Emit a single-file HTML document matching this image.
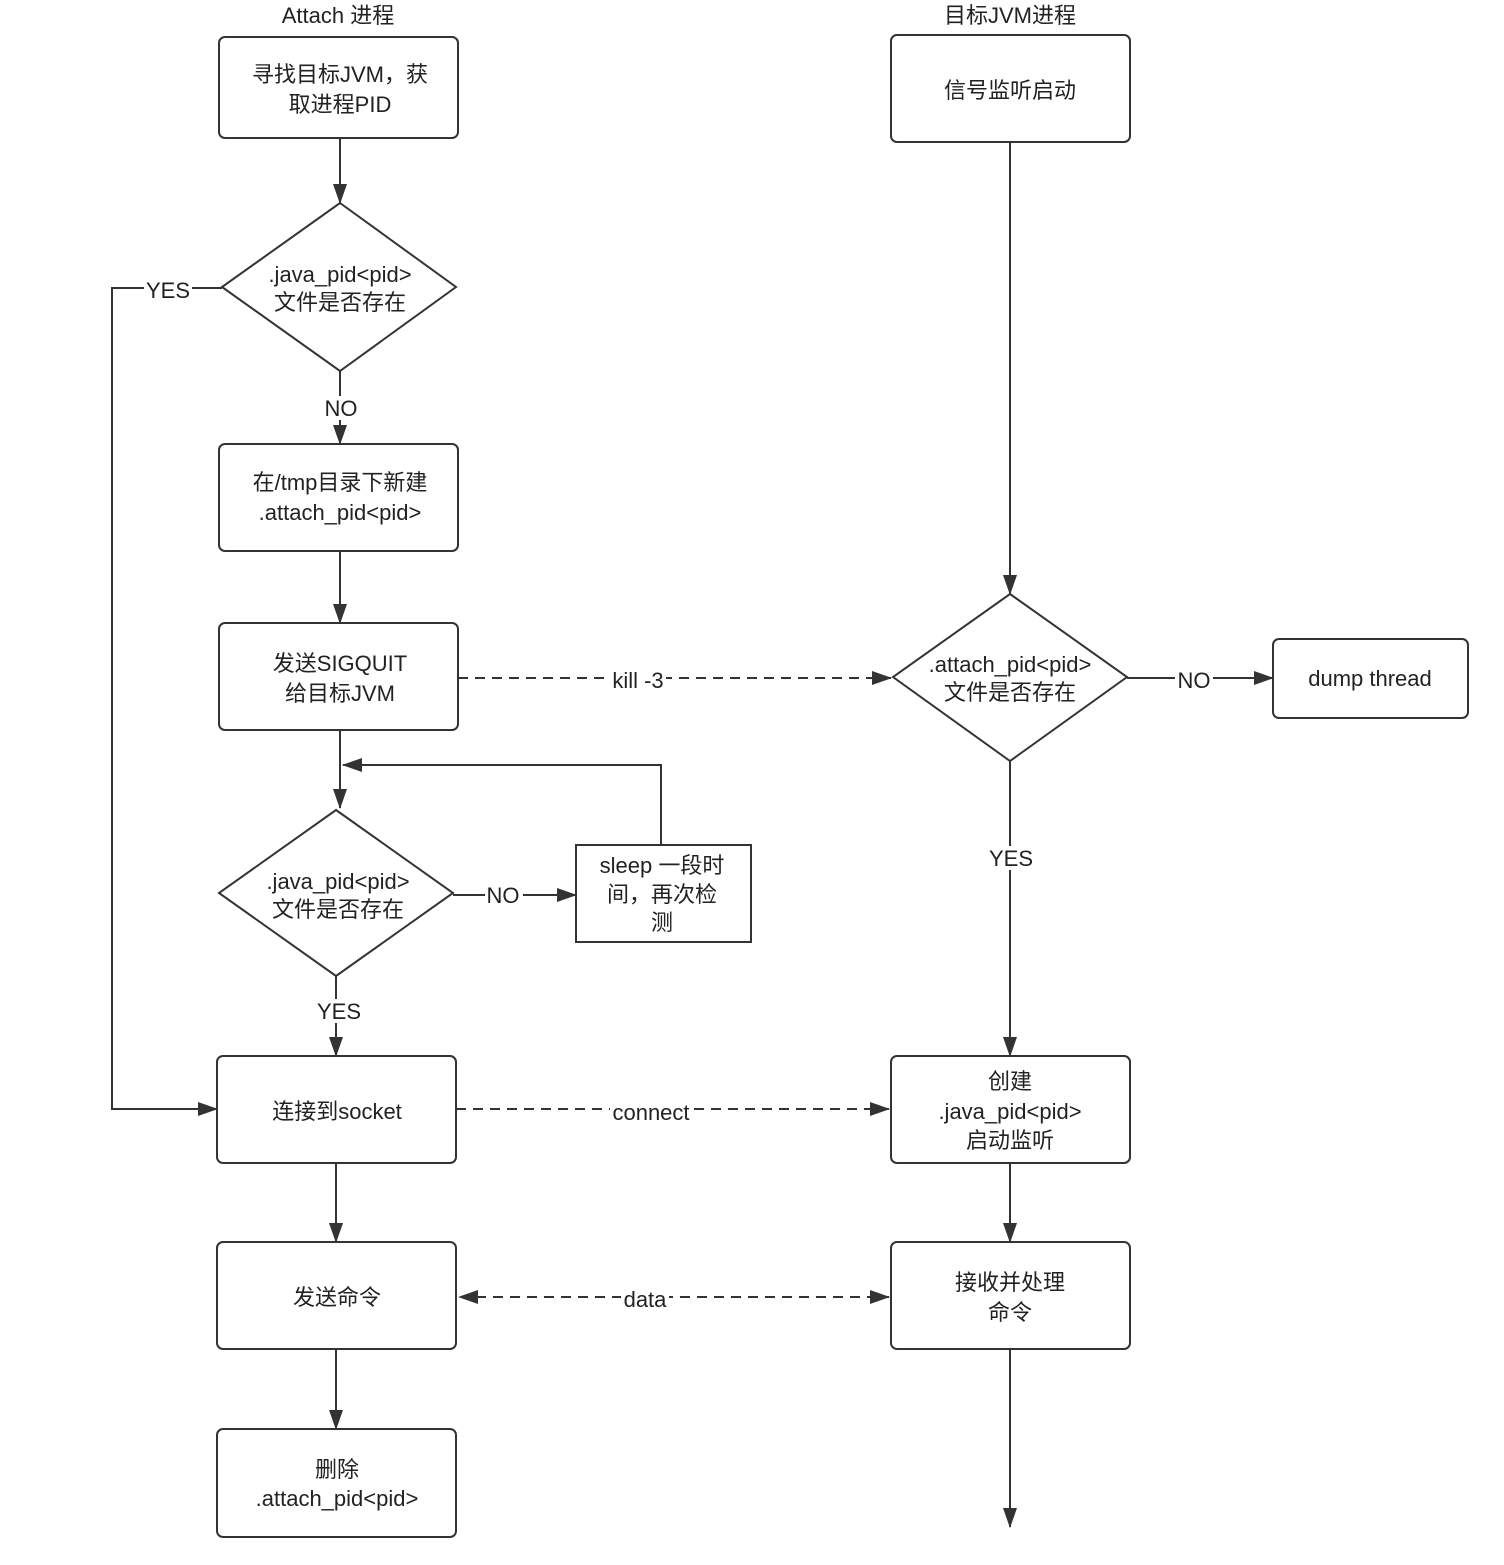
<!DOCTYPE html>
<html><head><meta charset="utf-8"><style>
body{margin:0;background:#fff}
svg text{font-family:"Liberation Sans","Noto Sans CJK SC",sans-serif;font-size:22px;fill:#222;text-anchor:middle}
</style></head><body>
<svg width="1504" height="1560" viewBox="0 0 1504 1560" xmlns="http://www.w3.org/2000/svg">
<defs><marker id="a" markerWidth="20" markerHeight="14" refX="19" refY="7" orient="auto" markerUnits="userSpaceOnUse"><path d="M0,0 L20,7 L0,14 z" fill="#333"/></marker></defs>
<g fill="#fff" stroke="#333" stroke-width="2">
<rect x="219" y="37" width="239" height="101" rx="6"/>
<rect x="891" y="35" width="239" height="107" rx="6"/>
<polygon points="340,203 456,287 340,371 222,287"/>
<rect x="219" y="444" width="239" height="107" rx="6"/>
<rect x="219" y="623" width="239" height="107" rx="6"/>
<polygon points="336,810 453,893 336,976 219,893"/>
<rect x="576" y="845" width="175" height="97"/>
<rect x="217" y="1056" width="239" height="107" rx="6"/>
<rect x="217" y="1242" width="239" height="107" rx="6"/>
<rect x="217" y="1429" width="239" height="108" rx="6"/>
<polygon points="1010,594 1127,677 1010,761 893,677"/>
<rect x="1273" y="639" width="195" height="79" rx="6"/>
<rect x="891" y="1056" width="239" height="107" rx="6"/>
<rect x="891" y="1242" width="239" height="107" rx="6"/>
</g>
<g stroke="#333" stroke-width="2" fill="none">
<line x1="340" y1="138" x2="340" y2="203" marker-end="url(#a)"/>
<line x1="340" y1="371" x2="340" y2="444" marker-end="url(#a)"/>
<line x1="340" y1="551" x2="340" y2="623" marker-end="url(#a)"/>
<line x1="340" y1="730" x2="340" y2="808" marker-end="url(#a)"/>
<polyline points="661,845 661,765 343,765" marker-end="url(#a)"/>
<line x1="453" y1="895" x2="576" y2="895" marker-end="url(#a)"/>
<line x1="336" y1="976" x2="336" y2="1056" marker-end="url(#a)"/>
<polyline points="222,288 112,288 112,1109 217,1109" marker-end="url(#a)"/>
<line x1="336" y1="1163" x2="336" y2="1242" marker-end="url(#a)"/>
<line x1="336" y1="1349" x2="336" y2="1429" marker-end="url(#a)"/>
<line x1="1010" y1="142" x2="1010" y2="594" marker-end="url(#a)"/>
<line x1="1127" y1="678" x2="1273" y2="678" marker-end="url(#a)"/>
<line x1="1010" y1="761" x2="1010" y2="1056" marker-end="url(#a)"/>
<line x1="1010" y1="1163" x2="1010" y2="1242" marker-end="url(#a)"/>
<line x1="1010" y1="1349" x2="1010" y2="1527" marker-end="url(#a)"/>
<g stroke-dasharray="10,7">
<line x1="458" y1="678" x2="891" y2="678" marker-end="url(#a)"/>
<line x1="456" y1="1109" x2="889" y2="1109" marker-end="url(#a)"/>
<line x1="476" y1="1297" x2="889" y2="1297" marker-end="url(#a)"/>
</g>
<path d="M458,1297 L478,1290 L478,1304 z" fill="#333" stroke="none"/>
</g>
<g fill="#fff">
<rect x="144" y="278" width="48" height="24"/>
<rect x="322" y="396" width="38" height="24"/>
<rect x="610" y="668" width="56" height="24"/>
<rect x="1175" y="668" width="38" height="24"/>
<rect x="485" y="883" width="38" height="24"/>
<rect x="986" y="846" width="48" height="24"/>
<rect x="314" y="999" width="48" height="24"/>
<rect x="610" y="1099" width="84" height="24"/>
<rect x="621" y="1287" width="48" height="24"/>
</g>
<text x="338" y="23">Attach 进程</text>
<text x="1010" y="23">目标JVM进程</text>
<text x="340" y="82">寻找目标JVM，获</text><text x="340" y="112">取进程PID</text>
<text x="1010" y="98">信号监听启动</text>
<text x="340" y="282">.java_pid&lt;pid&gt;</text><text x="340" y="310">文件是否存在</text>
<text x="168" y="298">YES</text>
<text x="341" y="416">NO</text>
<text x="340" y="490">在/tmp目录下新建</text><text x="340" y="520">.attach_pid&lt;pid&gt;</text>
<text x="340" y="671">发送SIGQUIT</text><text x="340" y="701">给目标JVM</text>
<text x="638" y="688">kill -3</text>
<text x="1010" y="672">.attach_pid&lt;pid&gt;</text><text x="1010" y="700">文件是否存在</text>
<text x="1194" y="688">NO</text>
<text x="1370" y="686">dump thread</text>
<text x="338" y="889">.java_pid&lt;pid&gt;</text><text x="338" y="917">文件是否存在</text>
<text x="503" y="903">NO</text>
<text x="662" y="873">sleep 一段时</text><text x="662" y="902">间，再次检</text><text x="662" y="930">测</text>
<text x="1011" y="866">YES</text>
<text x="339" y="1019">YES</text>
<text x="337" y="1119">连接到socket</text>
<text x="651" y="1120">connect</text>
<text x="1010" y="1089">创建</text><text x="1010" y="1119">.java_pid&lt;pid&gt;</text><text x="1010" y="1148">启动监听</text>
<text x="337" y="1305">发送命令</text>
<text x="645" y="1307">data</text>
<text x="1010" y="1290">接收并处理</text><text x="1010" y="1320">命令</text>
<text x="337" y="1477">删除</text><text x="337" y="1506">.attach_pid&lt;pid&gt;</text>
</svg>
</body></html>
